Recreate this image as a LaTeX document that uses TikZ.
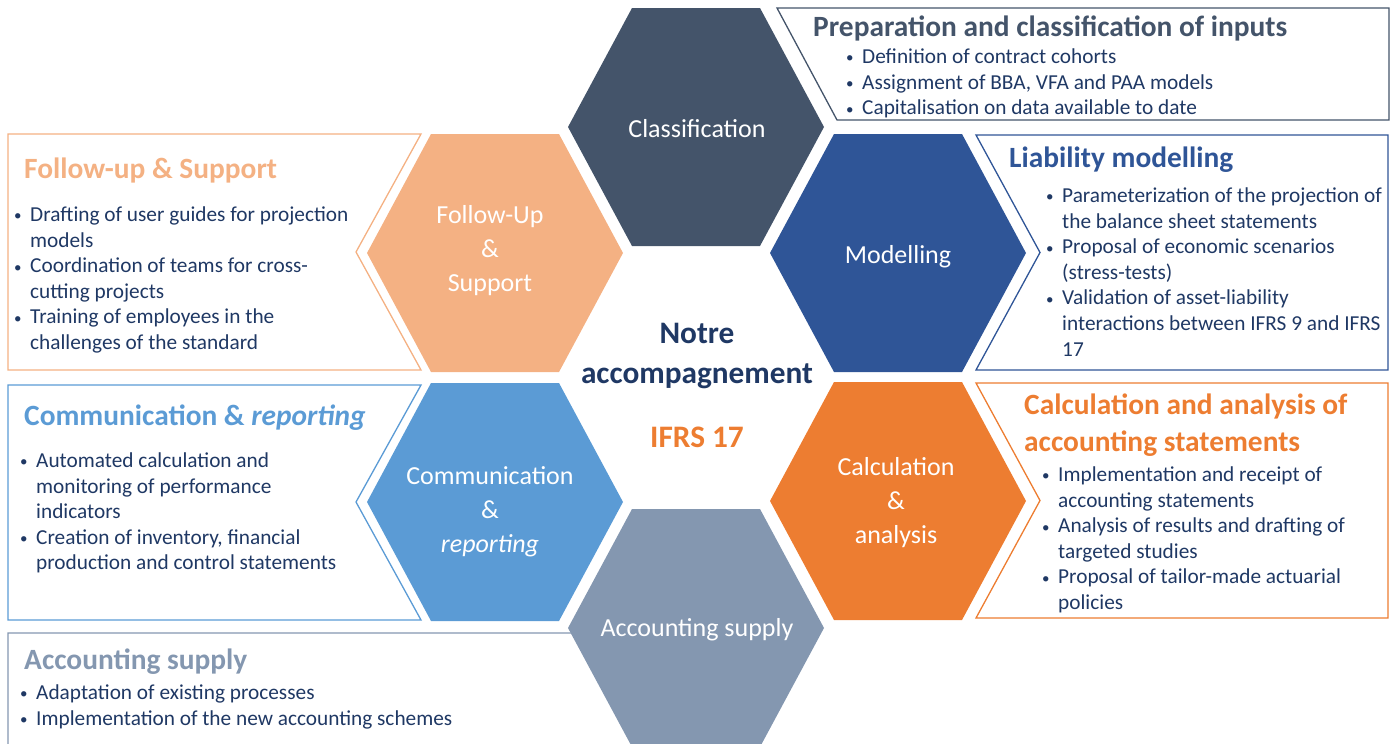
\documentclass[tikz,border=0pt]{standalone}
\usepackage{fontspec}
\setmainfont{Carlito}
\definecolor{cslate}{HTML}{44546A}
\definecolor{cblue}{HTML}{2F5597}
\definecolor{corange}{HTML}{ED7D31}
\definecolor{cgray}{HTML}{8497B0}
\definecolor{clight}{HTML}{5B9BD5}
\definecolor{cpeach}{HTML}{F4B183}
\definecolor{cnavy}{HTML}{1F3864}
\newcommand\Lines[1]{\vtop{\halign{##\hfil\cr#1\crcr}}}
\newcommand\CLines[1]{\vtop{\halign{\hfil##\hfil\cr#1\crcr}}}
\newcommand\bul{\makebox[17pt][l]{\hskip1pt\raisebox{0.6pt}{\fontsize{15}{15}\selectfont\textbullet}}}
\newcommand\ind{\hskip17pt}
\newcommand\hexa[3]{\fill[#3] (#1,#2) ++(-128,0) -- ++(64,-119) -- ++(128,0) -- ++(64,119) -- ++(-64,119) -- ++(-128,0) -- cycle;}
\tikzset{
  hexlabel/.style={inner sep=0, text=white, font=\fontsize{26}{34}\selectfont, anchor=base},
  boxtitle/.style={inner sep=0, anchor=base west, font=\fontsize{29.4}{37}\selectfont\bfseries},
  bullets/.style={inner sep=0, anchor=base west, text=cnavy, font=\fontsize{21.3}{25.6}\selectfont},
  centretext/.style={inner sep=0, anchor=base, font=\fontsize{31.3}{42}\selectfont\bfseries},
  outline/.style={line width=1.3pt, line join=miter}
}
\begin{document}
\begin{tikzpicture}[x=1pt,y=-1pt]
\useasboundingbox (0,0) rectangle (1395,744);
% hexagons
\hexa{696}{127}{cslate}
\hexa{898}{253}{cblue}
\hexa{898}{501}{corange}
\hexa{696}{628}{cgray}
\hexa{495}{502}{clight}
\hexa{495}{253}{cpeach}
% hex labels
\node[hexlabel] (hclass) at (697,137) {Classification};
\node[hexlabel] (hmod) at (898,263) {Modelling};
\node[hexlabel] (hcalc) at (896,475) {\CLines{Calculation\cr\&\cr analysis}};
\node[hexlabel] (hacc) at (697,636) {Accounting supply};
\node[hexlabel] (hcomm) at (490,484) {\CLines{Communication\cr\&\cr\itshape reporting}};
\node[hexlabel] (hfol) at (490,223) {\CLines{Follow-Up\cr\&\cr Support}};
% centre
\node[centretext, text=cnavy] (notre) at (697,343) {Notre};
\node[centretext, text=cnavy] (accomp) at (697,383) {accompagnement};
\node[centretext, text=corange] (ifrs) at (697,447) {IFRS 17};
% boxes
\draw[outline, cslate] (777,8) -- (1389,8) -- (1389,120) -- (837,120) -- cycle;
\draw[outline, cblue] (976,135) -- (1388,135) -- (1388,370) -- (976,370) -- (1040,252.5) -- cycle;
\draw[outline, corange] (976,383) -- (1388,383) -- (1388,618) -- (976,618) -- (1040,500.5) -- cycle;
\draw[outline, cpeach] (8,134) -- (421,134) -- (356,252) -- (421,370) -- (8,370) -- cycle;
\draw[outline, clight] (8,385) -- (421,385) -- (356,502) -- (421,620) -- (8,620) -- cycle;
\draw[outline, cgray] (8,760) -- (8,633) -- (582,633) -- (650,760);
% box texts
\node[boxtitle, text=cslate] (tprep) at (813,36) {Preparation and classification of inputs};
\node[bullets] (lprep) at (845,63.5) {\Lines{\bul Definition of contract cohorts\cr
\bul Assignment of BBA, VFA and PAA models\cr
\bul Capitalisation on data available to date}};
\node[boxtitle, text=cblue] (tliab) at (1009,167) {Liability modelling};
\node[bullets] (lliab) at (1045,202.5) {\Lines{\bul Parameterization of the projection of\cr
\ind the balance sheet statements\cr
\bul Proposal of economic scenarios\cr
\ind (stress-tests)\cr
\bul Validation of asset-liability\cr
\ind interactions between IFRS 9 and IFRS\cr
\ind 17}};
\node[boxtitle, text=corange] (tcalc) at (1024,414) {\Lines{Calculation and analysis of\cr accounting statements}};
\node[bullets] (lcalc) at (1041,481.5) {\Lines{\bul Implementation and receipt of\cr
\ind accounting statements\cr
\bul Analysis of results and drafting of\cr
\ind targeted studies\cr
\bul Proposal of tailor-made actuarial\cr
\ind policies}};
\node[boxtitle, text=cpeach] (tfol) at (24,178) {Follow-up \& Support};
\node[bullets] (lfol) at (13,221.5) {\Lines{\bul Drafting of user guides for projection\cr
\ind models\cr
\bul Coordination of teams for cross-\cr
\ind cutting projects\cr
\bul Training of employees in the\cr
\ind challenges of the standard}};
\node[boxtitle, text=clight] (tcomm) at (24,425) {Communication \& \textit{reporting}};
\node[bullets] (lcomm) at (19,467.5) {\Lines{\bul Automated calculation and\cr
\ind monitoring of performance\cr
\ind indicators\cr
\bul Creation of inventory, financial\cr
\ind production and control statements}};
\node[boxtitle, text=cgray] (tacc) at (24,669) {Accounting supply};
\node[bullets] (lacc) at (19,699.5) {\Lines{\bul Adaptation of existing processes\cr
\bul Implementation of the new accounting schemes}};
\end{tikzpicture}
\end{document}
